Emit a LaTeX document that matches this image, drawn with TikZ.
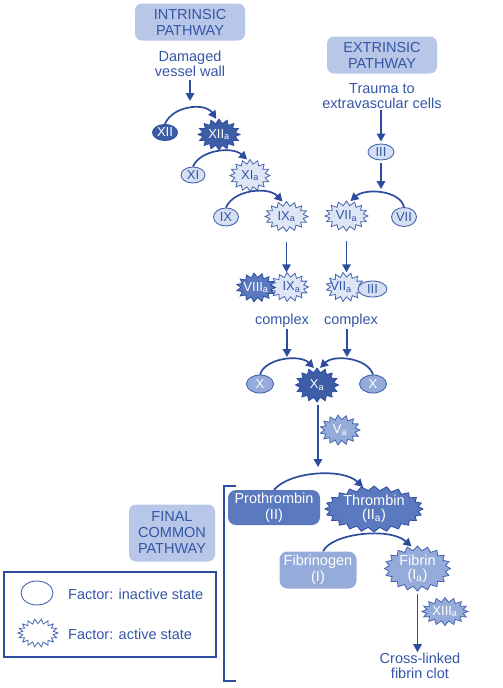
\documentclass[tikz,border=0pt]{standalone}
\usepackage{fontspec}
\setmainfont{Liberation Sans}
\usetikzlibrary{arrows.meta,shapes.geometric}
\definecolor{ink}{HTML}{2C4D9E}
\definecolor{txt}{HTML}{3556A6}
\definecolor{boxfill}{HTML}{B8C7E7}
\definecolor{darkfill}{HTML}{3D5DA7}
\definecolor{medfill}{HTML}{5A79BF}
\definecolor{midfill}{HTML}{95ABD9}
\definecolor{palefill}{HTML}{D5DFF2}
\definecolor{palestar}{HTML}{DEE6F6}
\definecolor{edge}{HTML}{4565AE}
\newcommand\subA{\textsubscript{a}}
% active factor: name, x, y, rx, ry, vertices, star style, text style, text
\newcommand\actf[9]{%
  \path[#7] plot[samples at={0,...,#6}, variable=\k]
    ({#2+(#4-4.5*mod(\k,2))*cos((360/#6)*\k)},{#3+(#5-4.5*mod(\k,2))*sin((360/#6)*\k)}) -- cycle;
  \node[fac,#8,minimum width={2*#4pt},minimum height={2*#5pt}] (#1) at (#2,#3) {#9};}
\begin{document}
\begin{tikzpicture}[x=1pt,y=-1pt,
  every node/.style={font=\fontsize{14.5}{16}\selectfont},
  pbox/.style={rounded corners=7pt, fill=boxfill, text=txt, align=center, inner sep=0pt, minimum width=110pt, minimum height=37pt},
  rbox/.style={rounded corners=8pt, align=center, inner sep=0pt, text=white},
  note/.style={text=txt, align=center, inner sep=1pt},
  arr/.style={draw=ink, line width=1.7pt, -{Triangle[length=8pt,width=8.5pt]}},
  fac/.style={ellipse, inner sep=0pt, align=center, font=\fontsize{13}{13}\selectfont},
  inact/.style={fac, draw=edge, line width=0.9pt},
  sdark/.style={fill=darkfill, draw=ink, line width=0.8pt},
  smed/.style={fill=medfill, draw=ink, line width=0.8pt},
  smid/.style={fill=midfill, draw=edge, line width=0.8pt},
  spale/.style={fill=palestar, draw=edge, line width=0.8pt},
  tw/.style={text=white},
  tb/.style={text=txt},
  big/.style={font=\fontsize{14.5}{14}\selectfont}]
\useasboundingbox (0,0) rectangle (503,688);

% ---------- intrinsic ----------
\node[pbox] (intr) at (190,22) {INTRINSIC\\PATHWAY};
\node[note, font=\fontsize{14.5}{15}\selectfont] (dmg) at (190,64) {Damaged\\vessel wall};
\coordinate (c1) at (190,101);
\draw[arr, shorten <=2pt] (dmg.south) -- (c1);

\node[inact, fill=darkfill, draw=ink, tw, minimum width=25pt, minimum height=16pt] (xii) at (165,132.5) {XII};
\actf{xiia}{219}{134.5}{21}{15.5}{32}{sdark}{tw}{XII\subA}
\draw[arr] (xii.north) .. controls (172,106) and (205,102) .. (xiia.100);

\node[inact, fill=palefill, tb, minimum width=24pt, minimum height=16pt] (xi) at (193,175) {XI};
\actf{xia}{250}{175.5}{20}{16}{32}{spale}{tb}{XI\subA}
\draw[arr] (xi.north) .. controls (200,150) and (232,146) .. (xia.100);

\node[inact, fill=palefill, tb, minimum width=25pt, minimum height=18pt] (ix) at (226,217) {IX};
\actf{ixa}{286.5}{216.5}{21.5}{15}{32}{spale}{tb}{IX\subA}
\draw[arr] (ix.north) .. controls (233,190) and (268,186) .. (ixa.105);

% ---------- extrinsic ----------
\node[pbox] (extr) at (382,55) {EXTRINSIC\\PATHWAY};
\node[note, font=\fontsize{14.5}{15}\selectfont] (trauma) at (382,96.5) {Trauma to\\extravascular cells};
\node[inact, fill=palefill, tb, minimum width=26pt, minimum height=16pt] (iii) at (381,152) {III};
\draw[arr] (trauma.south -| iii.north) -- ([yshift=2pt]iii.north);
\coordinate (c2) at (381,189);
\draw[arr, shorten <=3pt] (iii.south) -- (c2);
\actf{viia}{346.5}{216}{21.5}{15}{32}{spale}{tb}{VII\subA}
\node[inact, fill=palefill, tb, minimum width=25pt, minimum height=19pt] (vii) at (404,217) {VII};
\draw[arr] (vii.north) .. controls (400,190) and (365,188) .. (viia.75);

% ---------- complexes ----------
\actf{cixa}{289}{287}{19.5}{14.5}{30}{spale}{tb}{\hspace{5pt}IX\subA}
\actf{cviiia}{256}{287.5}{19.5}{14.5}{30}{smed}{tw}{VIII\subA}
\actf{cviia}{345}{287}{19}{14.5}{30}{spale}{tb}{VII\subA\hspace{8pt}}
\node[inact, fill=palefill, tb, minimum width=29pt, minimum height=16pt] (ciii) at (372.5,289) {III};
\draw[arr, shorten <=10pt] (ixa.south) -- (ixa.south |- cixa.north);
\draw[arr, shorten <=10pt] (viia.south) -- (viia.south |- cviia.north);
\node[note] (cl1) at (282,321) {complex};
\node[note] (cl2) at (351,321) {complex};

% ---------- X ----------
\coordinate (k1) at (287,357);
\coordinate (k2) at (347,357);
\draw[arr] (cl1.south -| k1) -- (k1);
\draw[arr] (cl2.south -| k2) -- (k2);
\node[inact, fill=midfill, draw=edge, tw, minimum width=27pt, minimum height=18pt] (xl) at (260,384) {X};
\actf{xa}{317}{385}{21.5}{17}{32}{sdark}{tw}{X\subA}
\node[inact, fill=midfill, draw=edge, tw, minimum width=27pt, minimum height=18pt] (xr) at (373,384) {X};
\draw[arr] (xl.north) .. controls (265,358) and (300,354) .. (xa.100);
\draw[arr] (xr.north) .. controls (368,358) and (334,354) .. (xa.80);
\actf{va}{340}{430}{20}{15}{30}{smid}{tw}{V\subA}
\coordinate (ft) at (318,467);
\draw[arr, shorten <=3pt] (xa.south -| ft) -- (ft);

% ---------- final common pathway ----------
\draw[ink, line width=1.3pt] (236,486) -- (224,486) -- (224,681) -- (236,681);
\node[rbox, fill=medfill, minimum width=92pt, minimum height=35pt] (proth) at (274,507.5) {Prothrombin\\(II)};
\actf{thr}{374}{509}{49}{23}{48}{smed}{tw,big}{Thrombin\\(II\subA)}
\draw[arr] (proth.north) .. controls (290,471) and (343,468) .. ([shift={(-11,-22)}]thr.center);
\node[rbox, fill=midfill, minimum width=77pt, minimum height=37pt] (fibg) at (318,570) {Fibrinogen\\(I)};
\actf{fib}{417.5}{568.5}{33}{22.5}{40}{smid}{tw,big}{Fibrin\\(I\subA)}
\draw[arr] ([xshift=5pt]fibg.north) .. controls (332,533) and (390,527) .. ([shift={(-6,-22)}]fib.center);
\actf{xiiia}{445}{611.5}{23}{14}{32}{smid}{tw}{XIII\subA}
\node[note, font=\fontsize{14.5}{14.5}\selectfont] (clot) at (420,666) {Cross-linked\\fibrin clot};
\draw[arr, shorten <=3pt] (fib.south) -- (fib.south |- clot.north);
\node[pbox, minimum width=86pt, minimum height=57pt] (fcp) at (172,533) {FINAL\\COMMON\\PATHWAY};

% ---------- legend ----------
\node[draw=ink, line width=1.2pt, minimum width=212pt, minimum height=85pt, inner sep=0pt] (leg) at (110,614.5) {};
\node[inact, fill=white, minimum width=32pt, minimum height=24pt] (legA) at (37,593) {};
\actf{legB}{38}{633}{20}{14}{36}{fill=white, draw=edge, line width=0.8pt}{}{}
\node[note, anchor=west] (legAt) at (67,594) {Factor: inactive state};
\node[note, anchor=west] (legBt) at (67,634) {Factor: active state};
\end{tikzpicture}
\end{document}
